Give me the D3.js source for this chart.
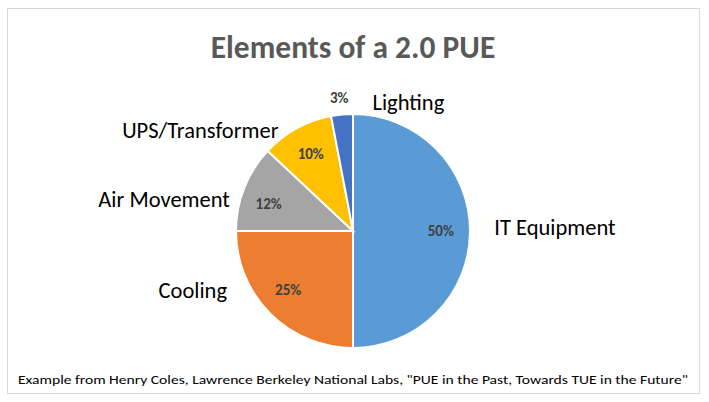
<!DOCTYPE html>
<html><head><meta charset="utf-8">
<script src="https://cdn.jsdelivr.net/npm/d3@7"></script>
<style>body{margin:0;background:#fff}text{font-family:Calibri,Carlito,"Liberation Sans",Arial,sans-serif}</style>
</head><body><svg id="c" width="709" height="402"></svg>
<script>
const categories = ["IT Equipment","Cooling","Air Movement","UPS/Transformer","Lighting"];
const values = [50,25,12,10,3];
const colors = ["#5B9BD5","#ED7D31","#A5A5A5","#FFC000","#4472C4"];
const pctLabels = ["50%","25%","12%","10%","3%"];
// label layout
const pctR = [0.75,0.7,0.73,0.75,1.25];
const pctD = [[0,1],[-7,2],[-5,6],[0,1],[0,14]];
const nameR = [1.25,1.1,1.15,1.25,1.25];
const nameD = [[-5,-1],[-35,-29],[2,20],[-4,30],[105,19]];
const svg = d3.select("#c");
svg.append("rect").attr("x",7.5).attr("y",8.5).attr("width",692).attr("height",385).attr("fill","#fff").attr("stroke","#D9D9D9");
svg.append("text").attr("x",353).attr("y",58).attr("text-anchor","middle").attr("font-size",31.5).attr("font-weight","bold").attr("fill","#595959").text("Elements of a 2.0 PUE");
const cx=353, cy=231, r=117;
const g = svg.append("g").attr("transform",`translate(${cx},${cy})`);
const pie = d3.pie().sort(null).value(d=>d)(values);
const arc = d3.arc().innerRadius(0).outerRadius(r);
g.selectAll("path").data(pie).join("path").attr("d",arc).attr("fill",(d,i)=>colors[i]).attr("stroke","#fff").attr("stroke-width",2);
pie.forEach((d,i)=>{
  const a=(d.startAngle+d.endAngle)/2;
  const px=Math.sin(a)*r*pctR[i]+pctD[i][0], py=-Math.cos(a)*r*pctR[i]+pctD[i][1];
  g.append("text").attr("x",px).attr("y",py).attr("text-anchor","middle").attr("dominant-baseline","middle")
   .attr("font-size",15).attr("font-weight","bold").attr("fill","#404040").text(pctLabels[i]);
  const nx=Math.sin(a)*r*nameR[i]+nameD[i][0], ny=-Math.cos(a)*r*nameR[i]+nameD[i][1];
  const left = Math.sin(a)<0;
  g.append("text").attr("x",nx).attr("y",ny).attr("text-anchor",left?"end":"start").attr("dominant-baseline","middle")
   .attr("font-size",22.5).attr("fill","#000").text(categories[i]);
});
svg.append("text").attr("x",18).attr("y",384).attr("font-size",12).attr("fill","#000")
 .attr("textLength",670).attr("lengthAdjust","spacingAndGlyphs")
 .text('Example from Henry Coles, Lawrence Berkeley National Labs, "PUE in the Past, Towards TUE in the Future"');
</script></body></html>
